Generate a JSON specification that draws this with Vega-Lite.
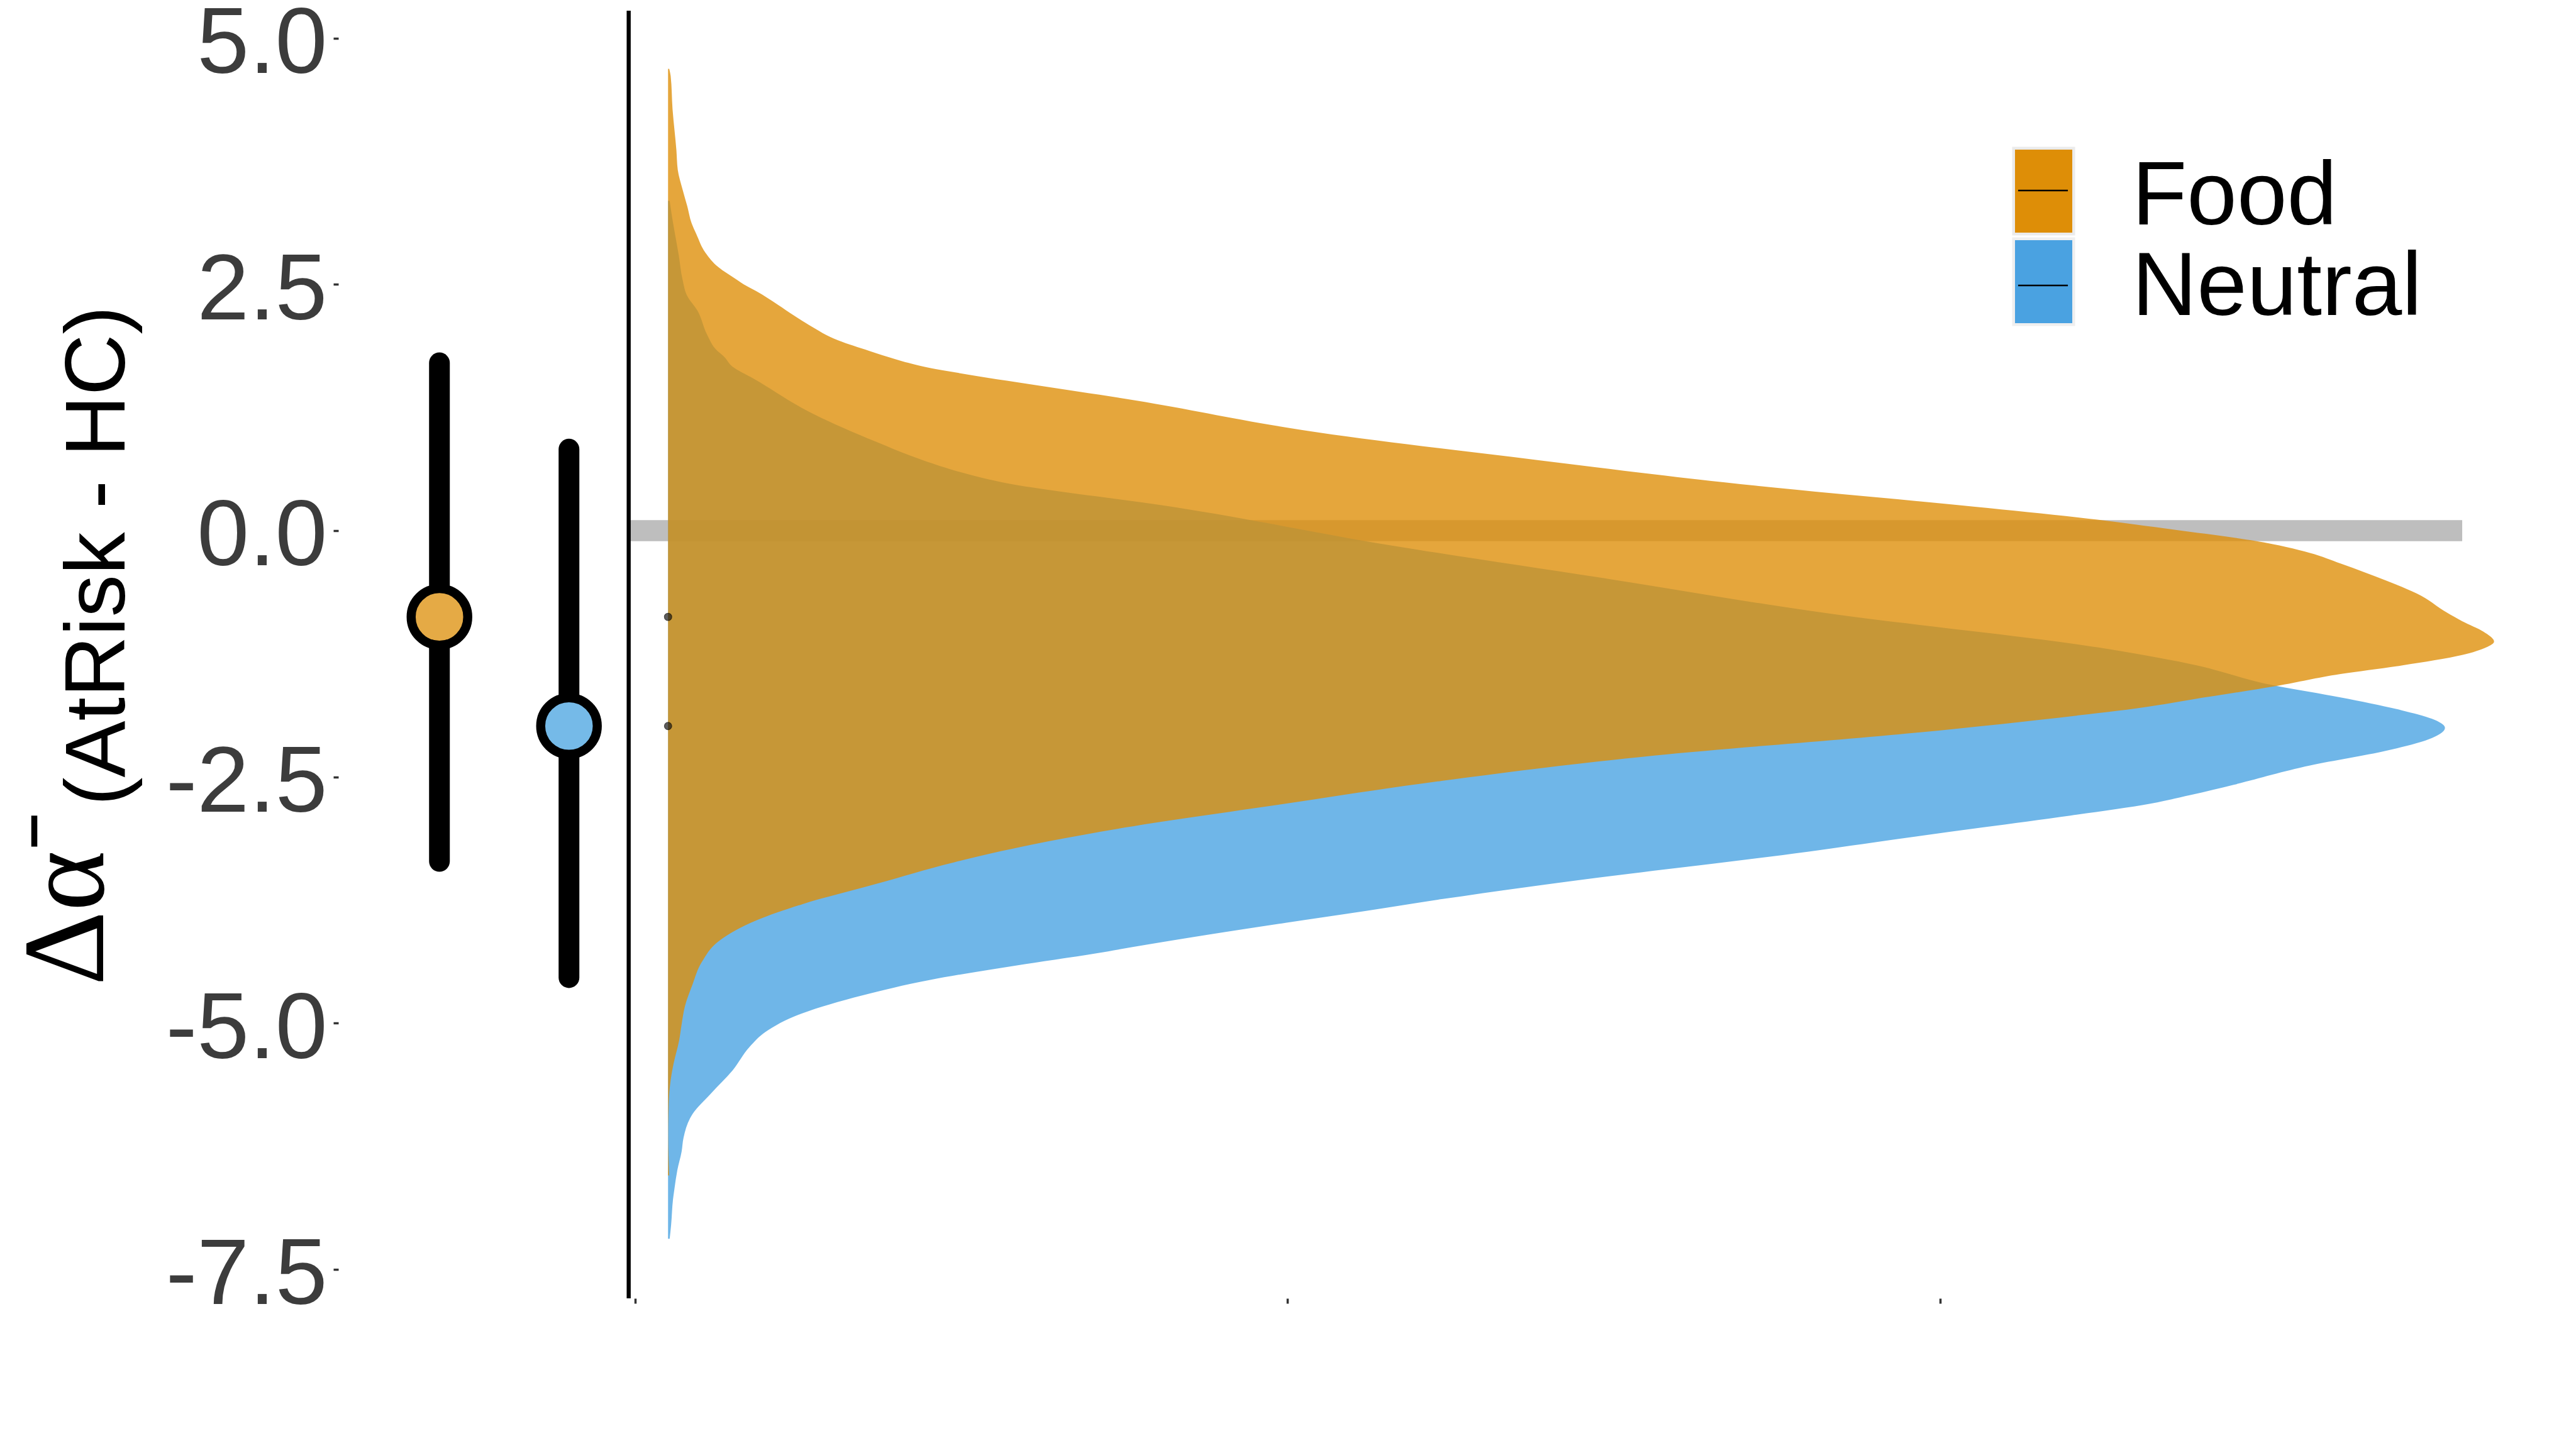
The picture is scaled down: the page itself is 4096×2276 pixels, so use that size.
{
 "$schema": "https://vega.github.io/schema/vega-lite/v6.json",
 "width": 3555,
 "height": 2048,
 "autosize": {"type": "none"},
 "padding": {"left": 538, "top": 17, "right": 3, "bottom": 211},
 "background": "#ffffff",
 "config": {"view": {"stroke": null}, "axis": {"grid": false, "domain": false}},
 "datasets": {
  "dens": [
   {"group":"Neutral","y":3.348,"x":0.0533},{"group":"Neutral","y":3.217,"x":0.0562},{"group":"Neutral","y":3.043,"x":0.0606},{"group":"Neutral","y":2.796,"x":0.0672},{"group":"Neutral","y":2.550,"x":0.0730},{"group":"Neutral","y":2.380,"x":0.0804},{"group":"Neutral","y":2.235,"x":0.0957},{"group":"Neutral","y":1.984,"x":0.1110},{"group":"Neutral","y":1.834,"x":0.1249},{"group":"Neutral","y":1.766,"x":0.1366},{"group":"Neutral","y":1.664,"x":0.1497},{"group":"Neutral","y":1.543,"x":0.1819},{"group":"Neutral","y":1.180,"x":0.2747},{"group":"Neutral","y":0.905,"x":0.3682},{"group":"Neutral","y":0.711,"x":0.4427},{"group":"Neutral","y":0.600,"x":0.4953},{"group":"Neutral","y":0.493,"x":0.5610},{"group":"Neutral","y":0.242,"x":0.8232},{"group":"Neutral","y":-0.150,"x":1.1585},{"group":"Neutral","y":-0.493,"x":1.4945},{"group":"Neutral","y":-0.842,"x":1.8298},{"group":"Neutral","y":-1.185,"x":2.2411},{"group":"Neutral","y":-1.350,"x":2.3806},{"group":"Neutral","y":-1.577,"x":2.5157},{"group":"Neutral","y":-1.693,"x":2.6136},{"group":"Neutral","y":-1.824,"x":2.7071},{"group":"Neutral","y":-1.911,"x":2.7538},{"group":"Neutral","y":-2.003,"x":2.7736},{"group":"Neutral","y":-2.105,"x":2.7538},{"group":"Neutral","y":-2.235,"x":2.6837},{"group":"Neutral","y":-2.385,"x":2.5668},{"group":"Neutral","y":-2.579,"x":2.4507},{"group":"Neutral","y":-2.685,"x":2.3835},{"group":"Neutral","y":-2.772,"x":2.3221},{"group":"Neutral","y":-2.893,"x":2.1994},{"group":"Neutral","y":-3.014,"x":2.0650},{"group":"Neutral","y":-3.135,"x":1.9313},{"group":"Neutral","y":-3.261,"x":1.7969},{"group":"Neutral","y":-3.382,"x":1.6516},{"group":"Neutral","y":-3.498,"x":1.5062},{"group":"Neutral","y":-3.624,"x":1.3609},{"group":"Neutral","y":-3.740,"x":1.2381},{"group":"Neutral","y":-3.861,"x":1.1205},{"group":"Neutral","y":-3.982,"x":0.9971},{"group":"Neutral","y":-4.107,"x":0.8744},{"group":"Neutral","y":-4.228,"x":0.7626},{"group":"Neutral","y":-4.291,"x":0.7071},{"group":"Neutral","y":-4.402,"x":0.5975},{"group":"Neutral","y":-4.562,"x":0.4514},{"group":"Neutral","y":-4.717,"x":0.3492},{"group":"Neutral","y":-4.901,"x":0.2564},{"group":"Neutral","y":-5.090,"x":0.2001},{"group":"Neutral","y":-5.240,"x":0.1760},{"group":"Neutral","y":-5.481,"x":0.1497},{"group":"Neutral","y":-5.718,"x":0.1161},{"group":"Neutral","y":-5.922,"x":0.0884},{"group":"Neutral","y":-6.164,"x":0.0745},{"group":"Neutral","y":-6.304,"x":0.0716},{"group":"Neutral","y":-6.493,"x":0.0650},{"group":"Neutral","y":-6.681,"x":0.0606},{"group":"Neutral","y":-6.788,"x":0.0584},{"group":"Neutral","y":-7.049,"x":0.0555},{"group":"Neutral","y":-7.189,"x":0.0533},
   {"group":"Food","y":4.688,"x":0.0526},{"group":"Food","y":4.615,"x":0.0548},{"group":"Food","y":4.277,"x":0.0577},{"group":"Food","y":3.861,"x":0.0636},{"group":"Food","y":3.662,"x":0.0657},{"group":"Food","y":3.464,"x":0.0730},{"group":"Food","y":3.290,"x":0.0804},{"group":"Food","y":3.120,"x":0.0869},{"group":"Food","y":3.009,"x":0.0942},{"group":"Food","y":2.821,"x":0.1081},{"group":"Food","y":2.675,"x":0.1278},{"group":"Food","y":2.550,"x":0.1556},{"group":"Food","y":2.487,"x":0.1702},{"group":"Food","y":2.429,"x":0.1863},{"group":"Food","y":2.293,"x":0.2191},{"group":"Food","y":2.182,"x":0.2440},{"group":"Food","y":2.085,"x":0.2673},{"group":"Food","y":1.930,"x":0.3119},{"group":"Food","y":1.824,"x":0.3594},{"group":"Food","y":1.766,"x":0.3864},{"group":"Food","y":1.640,"x":0.4609},{"group":"Food","y":1.601,"x":0.4953},{"group":"Food","y":1.321,"x":0.7677},{"group":"Food","y":0.997,"x":1.0468},{"group":"Food","y":0.716,"x":1.3828},{"group":"Food","y":0.455,"x":1.7181},{"group":"Food","y":0.242,"x":2.0533},{"group":"Food","y":0.111,"x":2.2411},{"group":"Food","y":0.010,"x":2.3572},{"group":"Food","y":-0.106,"x":2.4836},{"group":"Food","y":-0.227,"x":2.5668},{"group":"Food","y":-0.334,"x":2.6136},{"group":"Food","y":-0.508,"x":2.6837},{"group":"Food","y":-0.639,"x":2.7305},{"group":"Food","y":-0.832,"x":2.7765},{"group":"Food","y":-0.919,"x":2.7999},{"group":"Food","y":-1.026,"x":2.8327},{"group":"Food","y":-1.127,"x":2.8488},{"group":"Food","y":-1.185,"x":2.8371},{"group":"Food","y":-1.263,"x":2.7999},{"group":"Food","y":-1.369,"x":2.7071},{"group":"Food","y":-1.456,"x":2.6136},{"group":"Food","y":-1.577,"x":2.5157},{"group":"Food","y":-1.717,"x":2.3835},{"group":"Food","y":-1.805,"x":2.3002},{"group":"Food","y":-1.853,"x":2.2411},{"group":"Food","y":-2.051,"x":1.9642},{"group":"Food","y":-2.284,"x":1.5617},{"group":"Food","y":-2.530,"x":1.2491},{"group":"Food","y":-2.777,"x":0.9920},{"group":"Food","y":-3.014,"x":0.7516},{"group":"Food","y":-3.154,"x":0.6340},{"group":"Food","y":-3.367,"x":0.4894},{"group":"Food","y":-3.590,"x":0.3682},{"group":"Food","y":-3.793,"x":0.2564},{"group":"Food","y":-3.957,"x":0.1863},{"group":"Food","y":-4.161,"x":0.1300},{"group":"Food","y":-4.383,"x":0.1023},{"group":"Food","y":-4.606,"x":0.0884},{"group":"Food","y":-4.828,"x":0.0767},{"group":"Food","y":-5.012,"x":0.0716},{"group":"Food","y":-5.172,"x":0.0679},{"group":"Food","y":-5.414,"x":0.0592},{"group":"Food","y":-5.578,"x":0.0548},{"group":"Food","y":-5.820,"x":0.0519},{"group":"Food","y":-6.139,"x":0.0511},{"group":"Food","y":-6.546,"x":0.0526}
  ],
  "summary": [
   {"group":"Food","x":-0.2995,"mean":-0.876,"lo":-3.358,"hi":1.703},
   {"group":"Neutral","x":-0.101,"mean":-1.984,"lo":-4.538,"hi":0.827}
  ]
 },
 "layer": [
  {
   "data": {"name": "summary"},
   "mark": {"type": "rule", "color": "#BEBEBE", "strokeWidth": 33, "strokeCap": "butt"},
   "encoding": {
    "x": {"datum": -0.0095, "type": "quantitative", "scale": {"domain": [-0.4544, 2.9715], "nice": false, "zero": false}},
    "x2": {"datum": 2.80},
    "y": {"datum": 0, "type": "quantitative", "scale": {"domain": [-7.794, 5.278], "nice": false, "zero": false}}
   }
  },
  {
   "data": {"name": "summary"},
   "mark": {"type": "rule", "color": "#000000", "strokeWidth": 6},
   "encoding": {
    "x": {"datum": -0.0095, "type": "quantitative", "scale": {"domain": [-0.4544, 2.9715], "nice": false, "zero": false}}
   }
  },
  {
   "data": {"name": "dens"},
   "transform": [{"filter": "datum.group === 'Neutral'"}],
   "mark": {"type": "area", "orient": "horizontal", "interpolate": "monotone"},
   "encoding": {
    "y": {"field": "y", "type": "quantitative", "scale": {"domain": [-7.794, 5.278], "nice": false, "zero": false}},
    "x": {"field": "x", "type": "quantitative", "scale": {"domain": [-0.4544, 2.9715], "nice": false, "zero": false}},
    "x2": {"datum": 0.0508},
    "color": {"field": "group", "type": "nominal", "scale": {"domain": ["Food", "Neutral"], "range": ["#DE8E07", "#48A2E2"]}},
    "opacity": {"field": "group", "type": "nominal", "scale": {"domain": ["Neutral", "Food"], "range": [0.79, 0.79]},
     "legend": {"values": ["Neutral"], "orient": "none", "legendX": 2640, "legendY": 359.5, "title": null, "padding": 0, "symbolType": "M-0.7,-1H0.7V1H-0.7Z", "symbolSize": 18632, "symbolStrokeColor": "#EBEBEB", "symbolStrokeWidth": 4.5, "symbolFillColor": "#1A8ADA", "symbolOpacity": 1, "labelFont": "Liberation Sans", "labelFontSize": 143, "labelColor": "#000000", "labelOffset": 69, "labelLimit": 2000, "encode": {"labels": {"update": {"dy": {"value": 10}}}, "symbols": {"update": {"opacity": {"value": 1}, "fillOpacity": {"value": 1}}}}}}
   }
  },
  {
   "data": {"name": "dens"},
   "transform": [{"filter": "datum.group === 'Food'"}],
   "mark": {"type": "area", "orient": "horizontal", "interpolate": "monotone", "opacity": 0.79},
   "encoding": {
    "y": {"field": "y", "type": "quantitative", "scale": {"domain": [-7.794, 5.278], "nice": false, "zero": false},
     "axis": {"values": [-7.5, -5, -2.5, 0, 2.5, 5], "labelExpr": "replace(format(datum.value, '.1f'), '\u2212', '-')", "labelFont": "Liberation Sans", "labelFontSize": 149, "labelColor": "#3c3c3c", "labelLimit": 1000, "labelPadding": 10, "labelOffset": 10, "tickSize": 8, "tickWidth": 3.5, "tickColor": "#333333", "domain": false, "grid": false,
      "title": "Δα⁻", "titleFont": "Liberation Serif", "titleFontSize": 184, "titleFontWeight": "normal", "titleColor": "#000000", "titleAngle": 270, "titleX": -375, "titleY": 1550, "titleAlign": "left", "titleBaseline": "alphabetic", "titleLimit": 2000}},
    "x": {"field": "x", "type": "quantitative", "scale": {"domain": [-0.4544, 2.9715], "nice": false, "zero": false},
     "axis": {"values": [0, 1, 2], "labels": false, "tickSize": 8, "tickWidth": 3.5, "tickColor": "#333333", "domain": false, "grid": false,
      "title": "(AtRisk - HC)", "titleFont": "Liberation Sans", "titleFontSize": 135, "titleFontWeight": "normal", "titleColor": "#000000", "titleAngle": 270, "titleX": -341, "titleY": -784, "titleAlign": "left", "titleBaseline": "alphabetic", "titleLimit": 3000}},
    "x2": {"datum": 0.0508},
    "color": {"field": "group", "type": "nominal", "scale": {"domain": ["Food", "Neutral"], "range": ["#DE8E07", "#48A2E2"]},
     "legend": {"values": ["Food"], "orient": "none", "legendX": 2640, "legendY": 215.5, "title": null, "padding": 0, "symbolType": "M-0.7,-1H0.7V1H-0.7Z", "symbolSize": 18632, "symbolStrokeColor": "#EBEBEB", "symbolStrokeWidth": 4.5, "symbolOpacity": 1, "labelFont": "Liberation Sans", "labelFontSize": 143, "labelColor": "#000000", "labelOffset": 69, "labelLimit": 2000, "encode": {"labels": {"update": {"dy": {"value": 10}}}}}}
   }
  },
  {
   "data": {"name": "summary"},
   "mark": {"type": "point", "filled": true, "shape": "circle", "size": 130, "color": "#1a1a1a", "stroke": "#000000", "strokeWidth": 1.5},
   "encoding": {
    "x": {"datum": 0.0508, "type": "quantitative", "scale": {"domain": [-0.4544, 2.9715], "nice": false, "zero": false}},
    "y": {"field": "mean", "type": "quantitative", "scale": {"domain": [-7.794, 5.278], "nice": false, "zero": false}}
   }
  },
  {
   "data": {"name": "summary"},
   "mark": {"type": "rule", "strokeWidth": 33, "strokeCap": "round"},
   "encoding": {
    "x": {"field": "x", "type": "quantitative", "scale": {"domain": [-0.4544, 2.9715], "nice": false, "zero": false}},
    "y": {"field": "lo", "type": "quantitative", "scale": {"domain": [-7.794, 5.278], "nice": false, "zero": false}},
    "y2": {"field": "hi"},
    "stroke": {"field": "group", "type": "nominal", "scale": {"range": ["#000000", "#000000"]},
     "legend": {"orient": "none", "legendX": 2641, "legendY": 216.5, "title": null, "padding": 0, "rowPadding": 4, "symbolType": "M-0.7,-1M0.7,1M-0.58,0H0.58", "symbolSize": 18632, "symbolStrokeWidth": 2.5, "symbolFillColor": "transparent", "symbolOpacity": 1, "labelFont": "Liberation Sans", "labelFontSize": 1, "labelOpacity": 0, "labelOffset": 59, "labelLimit": 2000}}
   }
  },
  {
   "data": {"name": "summary"},
   "mark": {"type": "point", "filled": true, "shape": "circle", "size": 8100, "stroke": "#000000", "strokeWidth": 14.4, "opacity": 1},
   "encoding": {
    "x": {"field": "x", "type": "quantitative", "scale": {"domain": [-0.4544, 2.9715], "nice": false, "zero": false}},
    "y": {"field": "mean", "type": "quantitative", "scale": {"domain": [-7.794, 5.278], "nice": false, "zero": false}},
    "fill": {"field": "group", "type": "nominal", "scale": {"domain": ["Food", "Neutral"], "range": ["#E5AA45", "#75BAE8"]}, "legend": null}
   }
  }
 ]
}
